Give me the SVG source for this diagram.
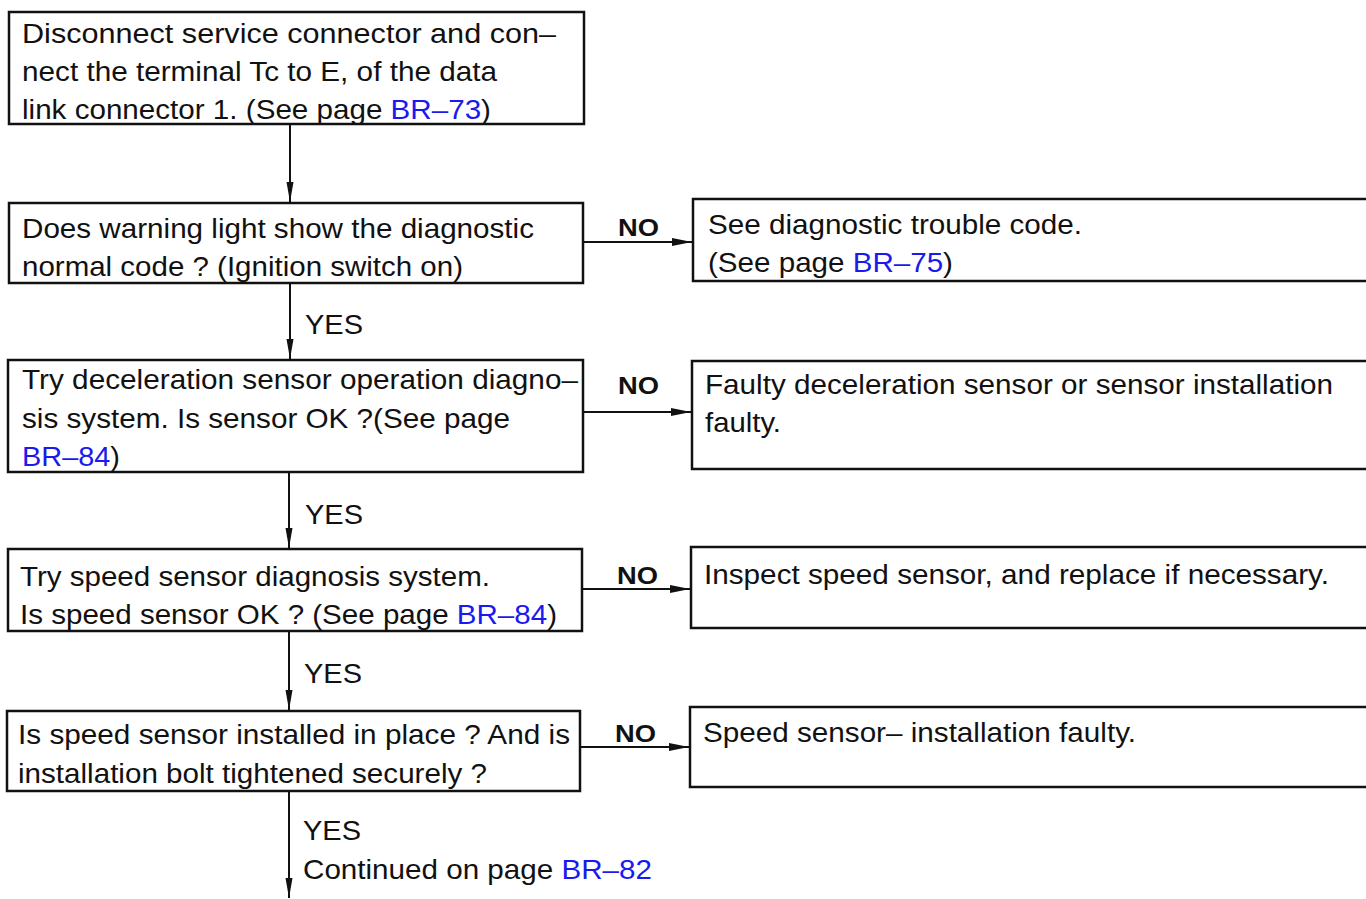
<svg xmlns="http://www.w3.org/2000/svg" width="1366" height="899" viewBox="0 0 1366 899">
<defs>
<style>
.box{fill:#fff;stroke:#111;stroke-width:2.5}
.t{font-family:"Liberation Sans",Arial,sans-serif;font-size:27.5px;fill:#111}
.no{font-family:"Liberation Sans",Arial,sans-serif;font-size:24px;font-weight:bold;fill:#111}
.lk{fill:#1a1aee}
.c{stroke:#111;stroke-width:2;fill:none}
</style>
<marker id="ah" viewBox="0 0 20 10" refX="20" refY="5" markerWidth="20" markerHeight="10" markerUnits="userSpaceOnUse" orient="auto">
<path d="M0,1 L20,5 L0,9 Z" fill="#111"/>
</marker>
<marker id="av" viewBox="0 0 20 10" refX="20" refY="5" markerWidth="20" markerHeight="10" markerUnits="userSpaceOnUse" orient="auto">
<path d="M0,1.5 L20,5 L0,8.5 Z" fill="#111"/>
</marker>
</defs>
<rect width="1366" height="899" fill="#fff"/>
<g id="connectors">
<line class="c" x1="290" y1="124" x2="290" y2="202" marker-end="url(#av)"/>
<line class="c" x1="583" y1="242" x2="692" y2="242" marker-end="url(#ah)"/>
<line class="c" x1="290" y1="283" x2="290" y2="359" marker-end="url(#av)"/>
<line class="c" x1="583" y1="412" x2="691" y2="412" marker-end="url(#ah)"/>
<line class="c" x1="289" y1="472" x2="289" y2="548" marker-end="url(#av)"/>
<line class="c" x1="582" y1="589" x2="690" y2="589" marker-end="url(#ah)"/>
<line class="c" x1="289" y1="631" x2="289" y2="710" marker-end="url(#av)"/>
<line class="c" x1="580" y1="747" x2="689" y2="747" marker-end="url(#ah)"/>
<line class="c" x1="289" y1="791" x2="289" y2="898" marker-end="url(#av)"/>
<text class="no" x="618" y="236" textLength="41" lengthAdjust="spacingAndGlyphs">NO</text>
<text class="no" x="618" y="394" textLength="41" lengthAdjust="spacingAndGlyphs">NO</text>
<text class="no" x="617" y="584" textLength="41" lengthAdjust="spacingAndGlyphs">NO</text>
<text class="no" x="615" y="742" textLength="41" lengthAdjust="spacingAndGlyphs">NO</text>
<text class="t" x="305" y="334" textLength="58" lengthAdjust="spacingAndGlyphs">YES</text>
<text class="t" x="305" y="524" textLength="58" lengthAdjust="spacingAndGlyphs">YES</text>
<text class="t" x="304" y="683" textLength="58" lengthAdjust="spacingAndGlyphs">YES</text>
<text class="t" x="303" y="840" textLength="58" lengthAdjust="spacingAndGlyphs">YES</text>
<text class="t" x="303" y="879" textLength="349" lengthAdjust="spacingAndGlyphs">Continued on page <tspan class="lk">BR–82</tspan></text>
</g>
<g id="n1">
<rect class="box" x="9" y="12" width="575" height="112"/>
<text class="t" x="22" y="43" textLength="534" lengthAdjust="spacingAndGlyphs">Disconnect service connector and con–</text>
<text class="t" x="22" y="81" textLength="475" lengthAdjust="spacingAndGlyphs">nect the terminal Tc to E, of the data</text>
<text class="t" x="22" y="119" textLength="469" lengthAdjust="spacingAndGlyphs">link connector 1. (See page <tspan class="lk">BR–73</tspan>)</text>
</g>
<g id="n2">
<rect class="box" x="9" y="203" width="574" height="80"/>
<text class="t" x="22" y="238" textLength="512" lengthAdjust="spacingAndGlyphs">Does warning light show the diagnostic</text>
<text class="t" x="22" y="276" textLength="441" lengthAdjust="spacingAndGlyphs">normal code ? (Ignition switch on)</text>
</g>
<g id="n2r">
<rect class="box" x="693" y="199" width="680" height="82"/>
<text class="t" x="708" y="234" textLength="374" lengthAdjust="spacingAndGlyphs">See diagnostic trouble code.</text>
<text class="t" x="708" y="272" textLength="245" lengthAdjust="spacingAndGlyphs">(See page <tspan class="lk">BR–75</tspan>)</text>
</g>
<g id="n3">
<rect class="box" x="8" y="360" width="575" height="112"/>
<text class="t" x="22" y="389" textLength="556" lengthAdjust="spacingAndGlyphs">Try deceleration sensor operation diagno–</text>
<text class="t" x="22" y="428" textLength="488" lengthAdjust="spacingAndGlyphs">sis system. Is sensor OK ?(See page</text>
<text class="t" x="22" y="466" textLength="98" lengthAdjust="spacingAndGlyphs"><tspan class="lk">BR–84</tspan>)</text>
</g>
<g id="n3r">
<rect class="box" x="692" y="361" width="680" height="108"/>
<text class="t" x="705" y="394" textLength="628" lengthAdjust="spacingAndGlyphs">Faulty deceleration sensor or sensor installation</text>
<text class="t" x="705" y="432" textLength="76" lengthAdjust="spacingAndGlyphs">faulty.</text>
</g>
<g id="n4">
<rect class="box" x="8" y="549" width="574" height="82"/>
<text class="t" x="20" y="586" textLength="470" lengthAdjust="spacingAndGlyphs">Try speed sensor diagnosis system.</text>
<text class="t" x="20" y="624" textLength="537" lengthAdjust="spacingAndGlyphs">Is speed sensor OK ? (See page <tspan class="lk">BR–84</tspan>)</text>
</g>
<g id="n4r">
<rect class="box" x="691" y="547" width="680" height="81"/>
<text class="t" x="704" y="584" textLength="625" lengthAdjust="spacingAndGlyphs">Inspect speed sensor, and replace if necessary.</text>
</g>
<g id="n5">
<rect class="box" x="7" y="711" width="573" height="80"/>
<text class="t" x="18" y="744" textLength="552" lengthAdjust="spacingAndGlyphs">Is speed sensor installed in place ? And is</text>
<text class="t" x="18" y="783" textLength="469" lengthAdjust="spacingAndGlyphs">installation bolt tightened securely ?</text>
</g>
<g id="n5r">
<rect class="box" x="690" y="707" width="680" height="80"/>
<text class="t" x="703" y="742" textLength="433" lengthAdjust="spacingAndGlyphs">Speed sensor– installation faulty.</text>
</g>
</svg>
